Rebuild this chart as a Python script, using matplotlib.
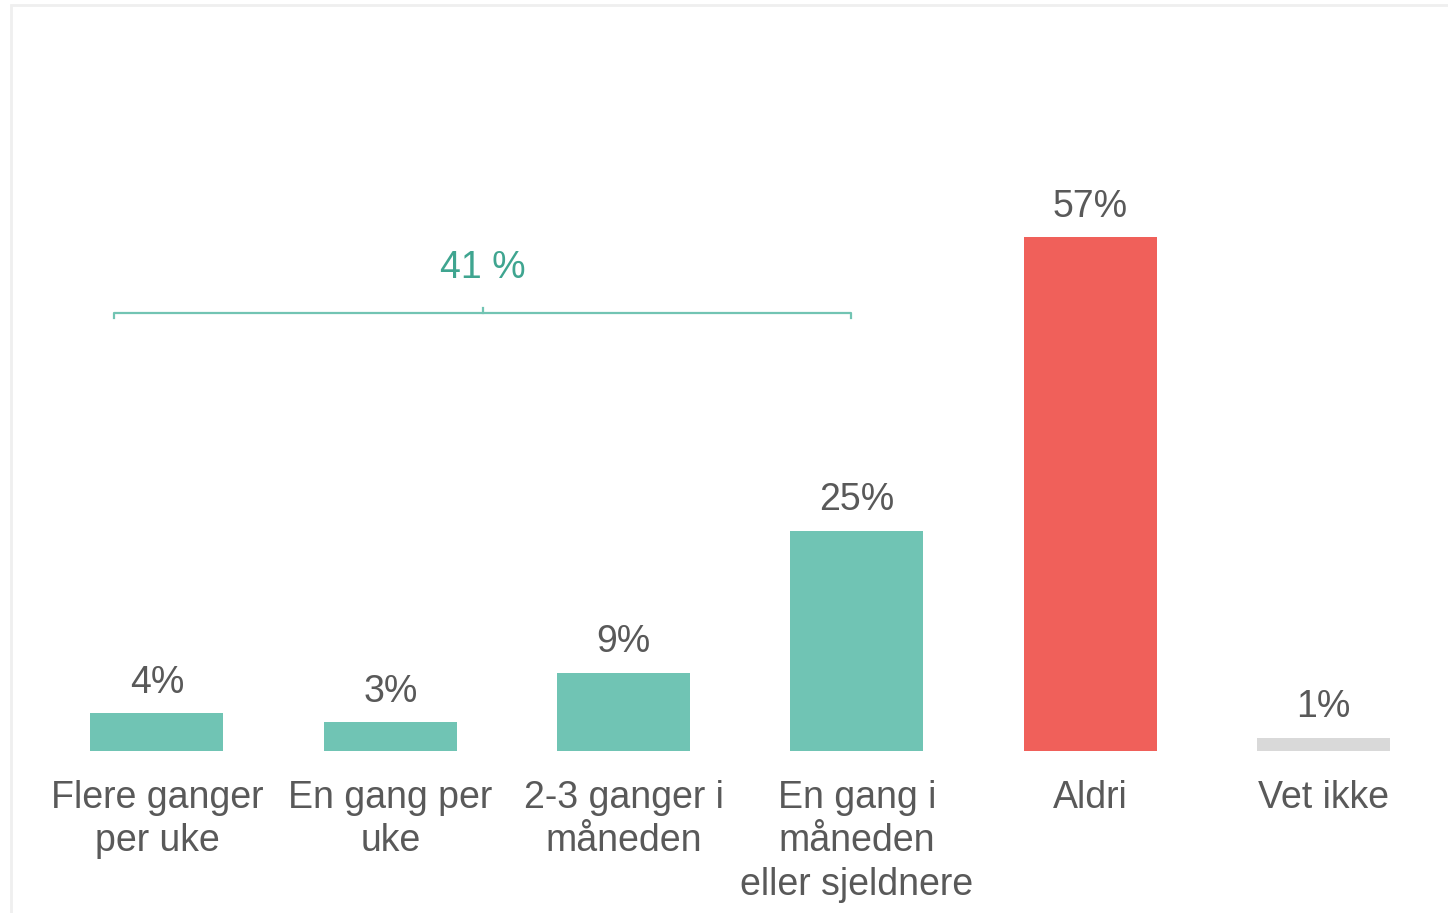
import matplotlib.pyplot as plt
from matplotlib.patches import Rectangle

plt.rcParams['font.family'] = ['Liberation Sans', 'DejaVu Sans']

# ============ data ============
categories = ["Flere ganger\nper uke", "En gang per\nuke", "2-3 ganger i\nmåneden",
              "En gang i\nmåneden\neller sjeldnere", "Aldri", "Vet ikke"]
values = [4.2, 3.2, 8.7, 24.5, 57.1, 1.5]
value_labels = ["4%", "3%", "9%", "25%", "57%", "1%"]
bar_colors = ["#70c4b4", "#70c4b4", "#70c4b4", "#70c4b4", "#f0605a", "#d9d9d9"]
group_label = "41 %"
group_span = (0, 3)  # first and last category in the bracket

text_color = "#595959"
teal_line = "#72c4b3"
teal_text = "#3fa590"

fig = plt.figure(figsize=(14.48, 9.13), dpi=100)
fig.patches.append(Rectangle((11 / 1448, -0.01), 1.1, (913 - 5) / 913 + 0.01,
                             transform=fig.transFigure, fill=False,
                             edgecolor="#efefef", linewidth=2))

ax = fig.add_axes([40.3 / 1448, (913 - 751) / 913, 1400 / 1448, 746 / 913])
x = list(range(len(categories)))
ax.bar(x, values, width=0.57, color=bar_colors)
ax.set_xlim(-0.5, len(categories) - 0.5)
ax.set_ylim(0, 746 / 9.0)

for xi, v, lab in zip(x, values, value_labels):
    ax.annotate(lab, (xi, v), xytext=(0, 9), textcoords="offset points",
                ha="center", va="bottom", fontsize=27, color=text_color)

ax.set_xticks(x)
ax.set_xticklabels(categories, fontsize=27, color=text_color, linespacing=1.26)
ax.tick_params(axis="x", length=0, pad=21)
ax.set_yticks([])
for s in ax.spines.values():
    s.set_visible(False)

# bracket over the first four categories
y_br = 48.7
x0 = group_span[0] - 0.184
x1 = group_span[1] - 0.025
xm = (x0 + x1) / 2
ax.plot([x0, x0, x1, x1], [y_br - 0.6, y_br, y_br, y_br - 0.6], color=teal_line, lw=1.6)
ax.plot([xm, xm], [y_br, y_br + 0.5], color=teal_line, lw=1.6)
ax.text(xm, y_br + 5.0, group_label, ha="center", va="center", fontsize=27, color=teal_text)

fig.savefig("out.png", dpi=100)
